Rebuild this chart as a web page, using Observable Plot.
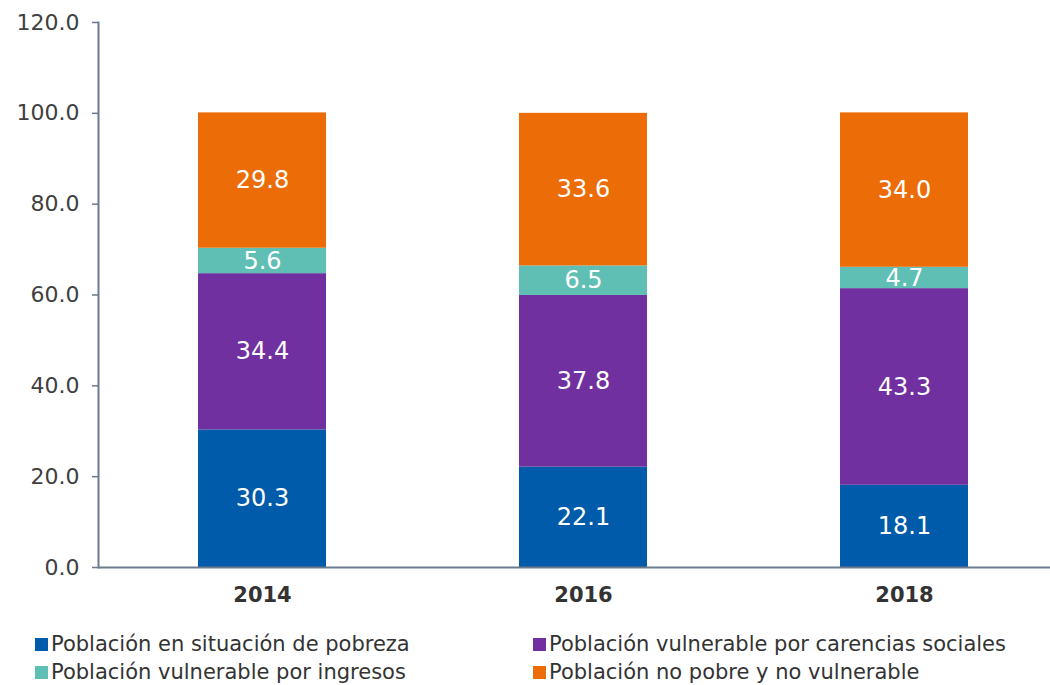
<!DOCTYPE html>
<html>
<head>
<meta charset="utf-8">
<script src="https://cdn.jsdelivr.net/npm/d3@7"></script>
<script src="https://cdn.jsdelivr.net/npm/@observablehq/plot@0.6"></script>
<style>
  html, body { margin: 0; padding: 0; background: #fff; }
  body { width: 1050px; height: 685px; overflow: hidden; font-family: "DejaVu Sans", sans-serif; }
  #legend { display: grid; grid-template-columns: 498px 500px; row-gap: 4px; padding-left: 35px; margin-top: 17px; }
  .item { display: flex; align-items: center; font-size: 21px; color: #333; line-height: 24px; white-space: nowrap; }
  .sw { width: 13px; height: 13px; margin-right: 3px; flex: none; }
</style>
</head>
<body>
<div id="chart"></div>
<div id="legend"></div>
<script>
const years = ["2014", "2016", "2018"];
const seriesNames = [
  "Población en situación de pobreza",
  "Población vulnerable por carencias sociales",
  "Población vulnerable por ingresos",
  "Población no pobre y no vulnerable"
];
const pobreza = [30.3, 22.1, 18.1];
const carencias = [34.4, 37.8, 43.3];
const ingresos = [5.6, 6.5, 4.7];
const noPobre = [29.8, 33.6, 34.0];
const colors = ["#005BAA", "#7030A0", "#5FBFB4", "#EC6C07"];
const yTicks = [0, 20, 40, 60, 80, 100, 120];
const legendOrder = [0, 1, 2, 3];

const seriesValues = [pobreza, carencias, ingresos, noPobre];
const data = [];
seriesNames.forEach((s, i) => years.forEach((y, j) => data.push({year: y, series: s, value: seriesValues[i][j]})));

const chart = Plot.plot({
  width: 1050,
  height: 615,
  marginLeft: 98,
  marginRight: 0,
  marginTop: 22,
  marginBottom: 48,
  style: {fontFamily: "'DejaVu Sans', sans-serif", fontSize: "22px", color: "#404040", background: "#fff"},
  x: {domain: years, range: [4, 1163], padding: 0.6, label: null},
  y: {domain: [0, 120], label: null},
  color: {domain: seriesNames, range: colors},
  marks: [
    Plot.barY(data, Plot.stackY({x: "year", y: "value", z: "series", order: seriesNames, fill: "series"})),
    Plot.text(data, Plot.stackY({x: "year", y: "value", z: "series", order: seriesNames, text: d => d.value.toFixed(1), fill: "white", fontSize: 24})),
    Plot.axisY({ticks: yTicks, tickFormat: d => d.toFixed(1), tickSize: 6, tickPadding: 13, stroke: "#6B7A8C", strokeWidth: 1.5, fill: "#404040", fontSize: 22}),
    Plot.axisX({tickSize: 0, tickPadding: 20, fill: "#333", fontSize: 21, fontWeight: "bold"}),
    Plot.ruleY([0], {stroke: "#6B7A8C", strokeWidth: 2}),
    Plot.frame({anchor: "left", stroke: "#6B7A8C", strokeWidth: 2})
  ]
});
document.getElementById("chart").appendChild(chart);

const legend = document.getElementById("legend");
legendOrder.forEach(i => {
  const it = document.createElement("div");
  it.className = "item";
  const sw = document.createElement("span");
  sw.className = "sw";
  sw.style.background = colors[i];
  it.appendChild(sw);
  it.appendChild(document.createTextNode(seriesNames[i]));
  legend.appendChild(it);
});
</script>
</body>
</html>
